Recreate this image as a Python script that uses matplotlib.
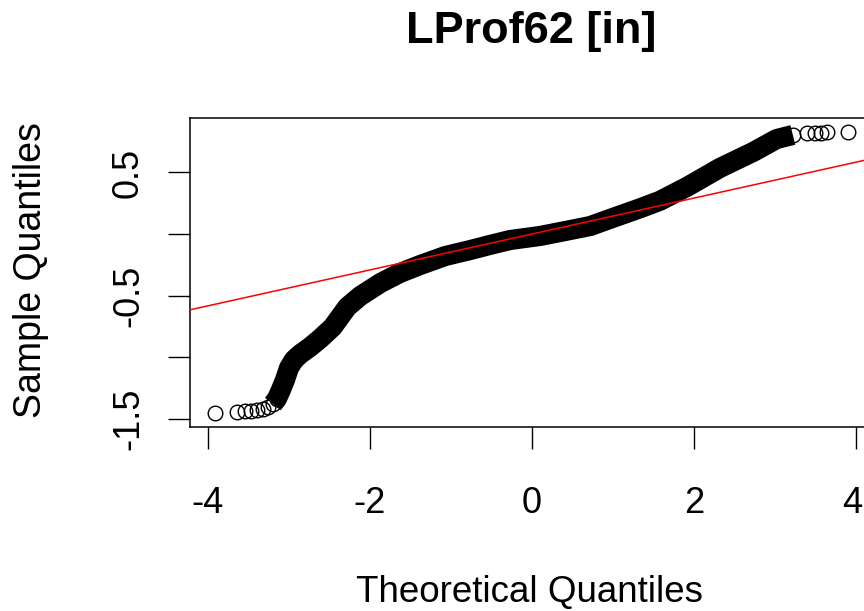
import numpy as np
import matplotlib.pyplot as plt
from matplotlib.transforms import ScaledTranslation

plt.rcParams['font.family'] = ['Liberation Sans', 'DejaVu Sans']

# values
theoretical = [-3.91, -3.64, -3.54, -3.47, -3.40, -3.32, -3.26, -3.20, -3.15, -3.10,
               -3.05, -3.00, -2.94, -2.86, -2.74, -2.62, -2.46, -2.28, -2.12, -1.87,
               -1.63, -1.38, -1.07, -0.76, -0.52, -0.27, 0.10, 0.41, 0.72, 1.02,
               1.33, 1.58, 1.91, 2.32, 2.73, 3.02, 3.22, 3.40, 3.49, 3.57,
               3.64, 3.90]
sample = [-1.455, -1.447, -1.439, -1.439, -1.431, -1.423, -1.407, -1.382, -1.341, -1.268,
          -1.187, -1.089, -1.024, -0.976, -0.919, -0.854, -0.756, -0.593, -0.504, -0.398,
          -0.317, -0.252, -0.179, -0.130, -0.089, -0.049, -0.016, 0.024, 0.065, 0.136,
          0.208, 0.270, 0.382, 0.537, 0.667, 0.772, 0.805, 0.821, 0.821, 0.821,
          0.829, 0.829]
line_intercept = 0.0
line_slope = 0.146

x_ticks = [-4, -2, 0, 2, 4]
y_ticks = [-1.5, -1.0, -0.5, 0.0, 0.5]
y_tick_labels = ['-1.5', '', '-0.5', '', '0.5']

theo = np.array(theoretical)
samp = np.array(sample)

W, H = 864, 611
fig = plt.figure(figsize=(W / 100, H / 100), dpi=100)
ax = fig.add_axes([190 / W, 1 - 427 / H, 684 / W, 309 / H])

# dense middle of the sample drawn as a thick band
core = (theo >= -3.20) & (theo <= 3.22)
ax.plot(theo[core], samp[core], color='black', lw=14.5, solid_capstyle='butt',
        solid_joinstyle='round', zorder=2)
ax.plot(theo, samp, 'o', mfc='none', mec='black', ms=10.5, mew=1.0, zorder=3)

ax.axline((0, line_intercept), slope=line_slope, color='red', lw=1.1, zorder=4)

ax.set_xlim(-4.222, 4.222)
ax.set_ylim(-1.569, 0.943)
ax.set_xticks(x_ticks)
ax.set_xticklabels([str(t) for t in x_ticks])
ax.set_yticks(y_ticks)
ax.set_yticklabels(y_tick_labels)

for s in ax.spines.values():
    s.set_linewidth(1.1)
ax.tick_params(direction='out', length=15.8, width=1.0, labelsize=26)
ax.tick_params(axis='x', pad=46)
ax.tick_params(axis='y', pad=21.6, labelrotation=90)
for lbl in ax.get_xticklabels():
    lbl.set_va('baseline')
# the last label sits at the cropped right edge, nudge it in a little
last = ax.get_xticklabels()[-1]
last.set_transform(last.get_transform() + ScaledTranslation(-3 / 72, 0, fig.dpi_scale_trans))
for lbl in ax.get_yticklabels():
    lbl.set_rotation_mode('anchor')
    lbl.set_ha('center')
    lbl.set_va('baseline')

fig.text(531 / W, 1 - 43 / H, 'LProf62 [in]', ha='center', va='baseline',
         fontsize=32.5, fontweight='bold')
fig.text(530 / W, 1 - 602 / H, 'Theoretical Quantiles', ha='center', va='baseline',
         fontsize=26.5)
fig.text(41 / W, 1 - 270 / H, 'Sample Quantiles', ha='center', va='baseline',
         rotation=90, rotation_mode='anchor', fontsize=27)

fig.savefig('out.png', dpi=100)
